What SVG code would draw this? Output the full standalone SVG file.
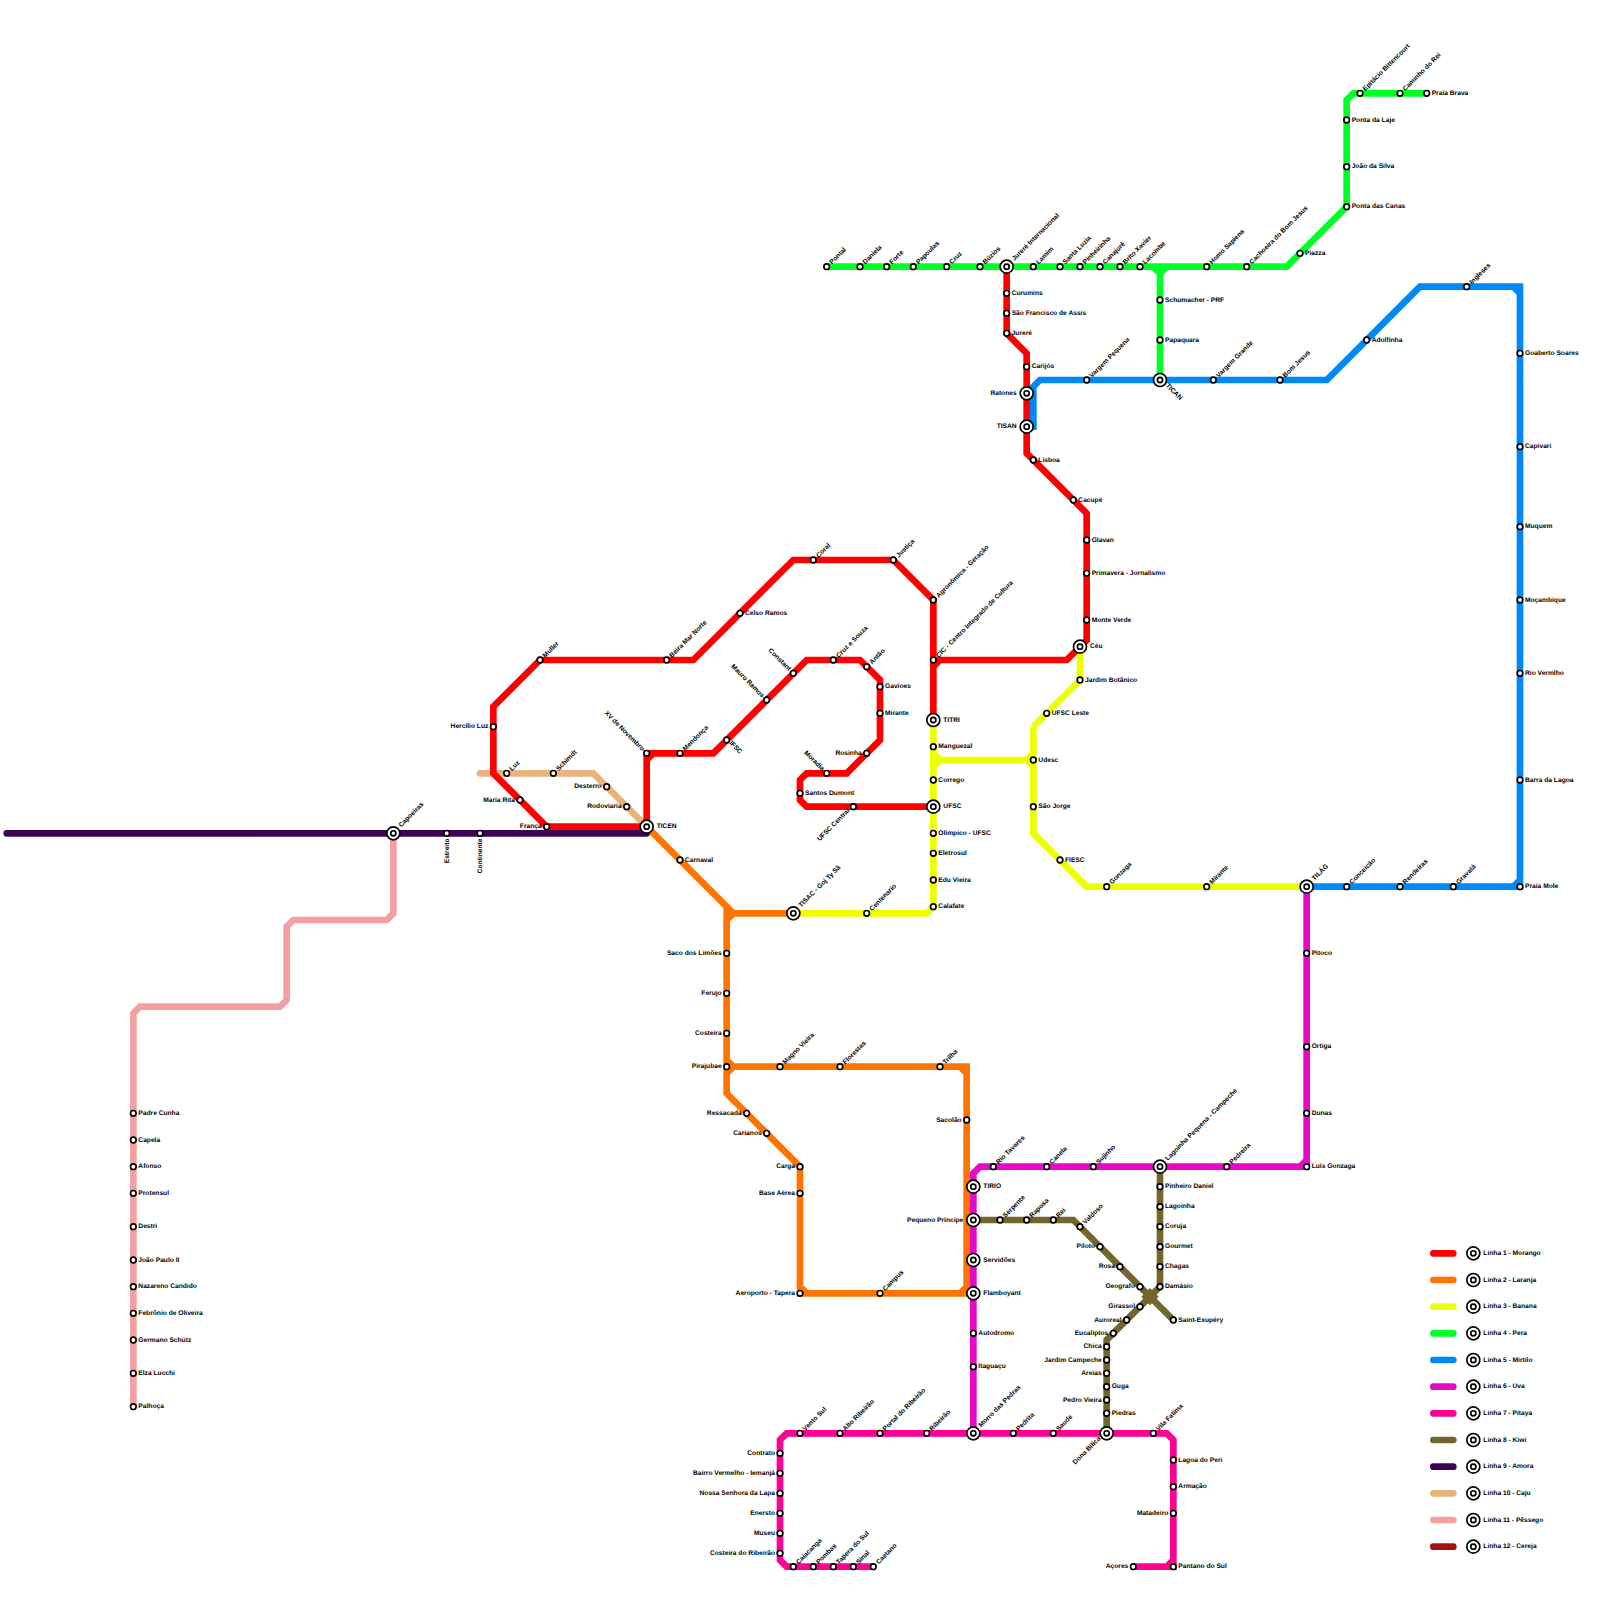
<svg xmlns="http://www.w3.org/2000/svg" width="1600" height="1600" viewBox="0 0 1600 1600">
<style>
.l{fill:none;stroke-width:6.67;stroke-linejoin:miter;stroke-linecap:butt}
.r{stroke-linecap:round}
.s{fill:#fff;stroke:#000;stroke-width:1.67}
.t{font-family:"Liberation Sans",Arial,sans-serif;font-size:6.67px;font-weight:bold;fill:#000;text-rendering:geometricPrecision}
.e{text-anchor:end}
.c1{stroke:#ff0000}.c2{stroke:#ff7300}.c3{stroke:#eeff00}.c4{stroke:#00ff26}.c5{stroke:#0088f5}.c6{stroke:#e60ac8}.c7{stroke:#ff0090}.c8{stroke:#73662d}.c9{stroke:#3b0354}.c10{stroke:#e8b47d}.c11{stroke:#f5a0a0}.c12{stroke:#a81010}
</style>
<defs>
<g id="x"><circle class="s" r="6.5"/><circle class="s" r="2.6"/></g>
</defs>
<g id="connectors">
<path id="linha10" class="l r c10" d="M480,773.33H593.33L646.67,826.67"/>
<path id="linha11" class="l c11" d="M393.33,833.33V913.33L386.67,920H293.33L286.67,926.67V1000L280,1006.67H140L133.33,1013.33V1406.67"/>
<path id="linha5" class="l c5" d="M1033.33,430V386.67L1040,380H1326.67L1420,286.67H1513.33L1520,293.33V886.67H1306.67M1513.33,286.67H1520V293.33M1513.33,886.67L1520,880"/>
<path id="linha4" class="l c4" d="M826.67,266.67H1286.67L1346.67,206.67V100L1353.33,93.33H1426.67M1153.33,266.67L1160,273.33V380M1166.67,266.67L1160,273.33"/>
<path id="linha2" class="l c2" d="M646.67,826.67L726.67,906.67L733.33,913.33H793.33M726.67,906.67V1093.33L800,1166.67V1293.33H966.67V1066.67H726.67M726.67,920L733.33,913.33M726.67,1060L733.33,1066.67L726.67,1073.33M960,1066.67L966.67,1073.33M800,1286.67L806.67,1293.33M960,1293.33L966.67,1286.67"/>
<path id="linha3" class="l c3" d="M793.33,913.33H926.67L933.33,906.67V720M933.33,753.33L940,760L933.33,766.67M940,760H1026.67L1033.33,753.33M1026.67,760L1033.33,766.67M1033.33,726.67V833.33L1086.67,886.67H1306.67M1033.33,726.67L1080,680V646.67"/>
<path id="linha1" class="l c1" d="M1006.67,266.67V333.33L1026.67,353.33V453.33L1086.67,513.33V640L1066.67,660H933.33M933.33,720V600L893.33,560H793.33L693.33,660H540L493.33,706.67V773.33L546.67,826.67H646.67V753.33H713.33L806.67,660H860L880,680V740L846.67,773.33H806.67L800,780V800L806.67,806.67H933.33M940,660L933.33,666.67M653.33,753.33L646.67,760"/>
<path id="linha6" class="l c6" d="M1306.67,886.67V1166.67H980L973.33,1173.33V1433.33M1300,1166.67L1306.67,1160"/>
<path id="linha8" class="l c8" d="M973.33,1220H1073.33L1173.33,1320M1160,1166.67V1286.67L1106.67,1340V1433.33"/>
<path id="kiwi-hub" fill="#73662d" d="M1150,1288L1158.67,1296.67L1150,1305.33L1141.33,1296.67Z"/>
<path id="linha7" class="l c7" d="M1133.33,1566.67H1173.33V1440L1166.67,1433.33H786.67L780,1440V1560L786.67,1566.67H873.33M1166.67,1566.67L1173.33,1560"/>
<path id="linha9" class="l r c9" d="M6.67,833.33H646.67"/>
</g>
<g id="stations" class="t">
<g id="pontal"><circle class="s" cx="826.67" cy="266.67" r="2.8"/><text class="t" x="832" y="264.5" transform="rotate(-45 832 264.5)">Pontal</text></g>
<g id="daniela"><circle class="s" cx="860" cy="266.67" r="2.8"/><text class="t" x="865.33" y="264.5" transform="rotate(-45 865.33 264.5)">Daniela</text></g>
<g id="forte"><circle class="s" cx="886.67" cy="266.67" r="2.8"/><text class="t" x="892" y="264.5" transform="rotate(-45 892 264.5)">Forte</text></g>
<g id="papoulas"><circle class="s" cx="913.33" cy="266.67" r="2.8"/><text class="t" x="918.67" y="264.5" transform="rotate(-45 918.67 264.5)">Papoulas</text></g>
<g id="cruz"><circle class="s" cx="946.67" cy="266.67" r="2.8"/><text class="t" x="952" y="264.5" transform="rotate(-45 952 264.5)">Cruz</text></g>
<g id="buzios"><circle class="s" cx="980" cy="266.67" r="2.8"/><text class="t" x="985.33" y="264.5" transform="rotate(-45 985.33 264.5)">Búzios</text></g>
<g id="lamim"><circle class="s" cx="1033.33" cy="266.67" r="2.8"/><text class="t" x="1038.67" y="264.5" transform="rotate(-45 1038.67 264.5)">Lamim</text></g>
<g id="santaluzia"><circle class="s" cx="1060" cy="266.67" r="2.8"/><text class="t" x="1065.33" y="264.5" transform="rotate(-45 1065.33 264.5)">Santa Luzia</text></g>
<g id="pinheirinha"><circle class="s" cx="1080" cy="266.67" r="2.8"/><text class="t" x="1085.33" y="264.5" transform="rotate(-45 1085.33 264.5)">Pinheirinha</text></g>
<g id="canajure"><circle class="s" cx="1100" cy="266.67" r="2.8"/><text class="t" x="1105.33" y="264.5" transform="rotate(-45 1105.33 264.5)">Canajurê</text></g>
<g id="britoxavier"><circle class="s" cx="1120" cy="266.67" r="2.8"/><text class="t" x="1125.33" y="264.5" transform="rotate(-45 1125.33 264.5)">Brito Xavier</text></g>
<g id="lacombe"><circle class="s" cx="1140" cy="266.67" r="2.8"/><text class="t" x="1145.33" y="264.5" transform="rotate(-45 1145.33 264.5)">Lacombe</text></g>
<g id="homosapiens"><circle class="s" cx="1206.67" cy="266.67" r="2.8"/><text class="t" x="1212" y="264.5" transform="rotate(-45 1212 264.5)">Homo Sapiens</text></g>
<g id="cachoeira"><circle class="s" cx="1246.67" cy="266.67" r="2.8"/><text class="t" x="1252" y="264.5" transform="rotate(-45 1252 264.5)">Cachoeira do Bom Jesus</text></g>
<g id="piazza"><circle class="s" cx="1300" cy="253.33" r="2.8"/><text class="t" x="1305" y="255.1">Piazza</text></g>
<g id="pontacanas"><circle class="s" cx="1346.67" cy="206.67" r="2.8"/><text class="t" x="1351.67" y="208.4">Ponta das Canas</text></g>
<g id="joaosilva"><circle class="s" cx="1346.67" cy="166.67" r="2.8"/><text class="t" x="1351.67" y="168.4">João da Silva</text></g>
<g id="pontalaje"><circle class="s" cx="1346.67" cy="120" r="2.8"/><text class="t" x="1351.67" y="121.8">Ponta da Laje</text></g>
<g id="epitacio"><circle class="s" cx="1360" cy="93.33" r="2.8"/><text class="t" x="1365.33" y="91.2" transform="rotate(-45 1365.33 91.2)">Epitácio Bittencourt</text></g>
<g id="caminhorei"><circle class="s" cx="1400" cy="93.33" r="2.8"/><text class="t" x="1405.33" y="91.2" transform="rotate(-45 1405.33 91.2)">Caminho do Rei</text></g>
<g id="praiabrava"><circle class="s" cx="1426.67" cy="93.33" r="2.8"/><text class="t" x="1431.67" y="95.1">Praia Brava</text></g>
<g id="curumins"><circle class="s" cx="1006.67" cy="293.33" r="2.8"/><text class="t" x="1011.67" y="295.1">Curumins</text></g>
<g id="saofrancisco"><circle class="s" cx="1006.67" cy="313.33" r="2.8"/><text class="t" x="1011.67" y="315.1">São Francisco de Assis</text></g>
<g id="jurere"><circle class="s" cx="1006.67" cy="333.33" r="2.8"/><text class="t" x="1011.67" y="335.1">Jureré</text></g>
<g id="carijos"><circle class="s" cx="1026.67" cy="366.67" r="2.8"/><text class="t" x="1031.67" y="368.4">Carijós</text></g>
<g id="lisboa"><circle class="s" cx="1033.33" cy="460" r="2.8"/><text class="t" x="1038.33" y="461.8">Lisboa</text></g>
<g id="cacupe"><circle class="s" cx="1073.33" cy="500" r="2.8"/><text class="t" x="1078.33" y="501.8">Cacupé</text></g>
<g id="glavan"><circle class="s" cx="1086.67" cy="540" r="2.8"/><text class="t" x="1091.67" y="541.8">Glavan</text></g>
<g id="primavera"><circle class="s" cx="1086.67" cy="573.33" r="2.8"/><text class="t" x="1091.67" y="575.1">Primavera - Jornalismo</text></g>
<g id="monteverde"><circle class="s" cx="1086.67" cy="620" r="2.8"/><text class="t" x="1091.67" y="621.8">Monte Verde</text></g>
<g id="schumacher"><circle class="s" cx="1160" cy="300" r="2.8"/><text class="t" x="1165" y="301.8">Schumacher - PRF</text></g>
<g id="papaquara"><circle class="s" cx="1160" cy="340" r="2.8"/><text class="t" x="1165" y="341.8">Papaquara</text></g>
<g id="vargempequena"><circle class="s" cx="1086.67" cy="380" r="2.8"/><text class="t" x="1092" y="377.9" transform="rotate(-45 1092 377.9)">Vargem Pequena</text></g>
<g id="vargemgrande"><circle class="s" cx="1213.33" cy="380" r="2.8"/><text class="t" x="1218.67" y="377.9" transform="rotate(-45 1218.67 377.9)">Vargem Grande</text></g>
<g id="bomjesus"><circle class="s" cx="1280" cy="380" r="2.8"/><text class="t" x="1285.33" y="377.9" transform="rotate(-45 1285.33 377.9)">Bom Jesus</text></g>
<g id="adolfinha"><circle class="s" cx="1366.67" cy="340" r="2.8"/><text class="t" x="1371.67" y="341.8">Adolfinha</text></g>
<g id="ingleses"><circle class="s" cx="1466.67" cy="286.67" r="2.8"/><text class="t" x="1472" y="284.5" transform="rotate(-45 1472 284.5)">Ingleses</text></g>
<g id="goaberto"><circle class="s" cx="1520" cy="353.33" r="2.8"/><text class="t" x="1525" y="355.1">Goaberto Soares</text></g>
<g id="capivari"><circle class="s" cx="1520" cy="446.67" r="2.8"/><text class="t" x="1525" y="448.4">Capivari</text></g>
<g id="muquem"><circle class="s" cx="1520" cy="526.67" r="2.8"/><text class="t" x="1525" y="528.4">Muquem</text></g>
<g id="mocambique"><circle class="s" cx="1520" cy="600" r="2.8"/><text class="t" x="1525" y="601.8">Moçambique</text></g>
<g id="riovermlho"><circle class="s" cx="1520" cy="673.33" r="2.8"/><text class="t" x="1525" y="675.1">Rio Vermlho</text></g>
<g id="barralagoa"><circle class="s" cx="1520" cy="780" r="2.8"/><text class="t" x="1525" y="781.8">Barra da Lagoa</text></g>
<g id="praiamole"><circle class="s" cx="1520" cy="886.67" r="2.8"/><text class="t" x="1525" y="888.4">Praia Mole</text></g>
<g id="gravata"><circle class="s" cx="1453.33" cy="886.67" r="2.8"/><text class="t" x="1458.67" y="884.5" transform="rotate(-45 1458.67 884.5)">Gravatá</text></g>
<g id="rendeiras"><circle class="s" cx="1400" cy="886.67" r="2.8"/><text class="t" x="1405.33" y="884.5" transform="rotate(-45 1405.33 884.5)">Rendeiras</text></g>
<g id="conceicao"><circle class="s" cx="1346.67" cy="886.67" r="2.8"/><text class="t" x="1352" y="884.5" transform="rotate(-45 1352 884.5)">Conceicão</text></g>
<g id="agronomica"><circle class="s" cx="933.33" cy="600" r="2.8"/><text class="t" x="938.67" y="597.9" transform="rotate(-45 938.67 597.9)">Agronômica - Geração</text></g>
<g id="cic"><circle class="s" cx="933.33" cy="660" r="2.8"/><text class="t" x="938.67" y="657.9" transform="rotate(-45 938.67 657.9)">CIC - Centro Integrado de Cultura</text></g>
<g id="justica"><circle class="s" cx="893.33" cy="560" r="2.8"/><text class="t" x="898.67" y="557.9" transform="rotate(-45 898.67 557.9)">Justiça</text></g>
<g id="coral"><circle class="s" cx="813.33" cy="560" r="2.8"/><text class="t" x="818.67" y="557.9" transform="rotate(-45 818.67 557.9)">Coral</text></g>
<g id="celsoramos"><circle class="s" cx="740" cy="613.33" r="2.8"/><text class="t" x="745" y="615.1">Celso Ramos</text></g>
<g id="beiramar"><circle class="s" cx="666.67" cy="660" r="2.8"/><text class="t" x="672" y="657.9" transform="rotate(-45 672 657.9)">Beira Mar Norte</text></g>
<g id="muller"><circle class="s" cx="540" cy="660" r="2.8"/><text class="t" x="545.33" y="657.9" transform="rotate(-45 545.33 657.9)">Muller</text></g>
<g id="hercilio"><circle class="s" cx="493.33" cy="726.67" r="2.8"/><text class="t e" x="488.33" y="728.4">Hercílio Luz</text></g>
<g id="luz"><circle class="s" cx="506.67" cy="773.33" r="2.8"/><text class="t" x="512" y="771.2" transform="rotate(-45 512 771.2)">Luz</text></g>
<g id="schimdt"><circle class="s" cx="553.33" cy="773.33" r="2.8"/><text class="t" x="558.67" y="771.2" transform="rotate(-45 558.67 771.2)">Schimdt</text></g>
<g id="desterro"><circle class="s" cx="606.67" cy="786.67" r="2.8"/><text class="t e" x="601.67" y="788.4">Desterro</text></g>
<g id="rodoviaria"><circle class="s" cx="626.67" cy="806.67" r="2.8"/><text class="t e" x="621.67" y="808.4">Rodoviaria</text></g>
<g id="mariarita"><circle class="s" cx="520" cy="800" r="2.8"/><text class="t e" x="515" y="801.8">Maria Rita</text></g>
<g id="franca"><circle class="s" cx="546.67" cy="826.67" r="2.8"/><text class="t e" x="541.67" y="828.4">França</text></g>
<g id="xv"><circle class="s" cx="646.67" cy="753.33" r="2.8"/><text class="t e" x="641.83" y="751.2" transform="rotate(45 641.83 751.2)">XV de Novembro</text></g>
<g id="mendonca"><circle class="s" cx="680" cy="753.33" r="2.8"/><text class="t" x="685.33" y="751.2" transform="rotate(-45 685.33 751.2)">Mendonça</text></g>
<g id="ifsc"><circle class="s" cx="726.67" cy="740" r="2.8"/><text class="t" x="729" y="743.5" transform="rotate(45 729 743.5)">IFSC</text></g>
<g id="mauroramos"><circle class="s" cx="766.67" cy="700" r="2.8"/><text class="t e" x="761.83" y="697.9" transform="rotate(45 761.83 697.9)">Mauro Ramos</text></g>
<g id="constant"><circle class="s" cx="793.33" cy="673.33" r="2.8"/><text class="t e" x="788.5" y="671.2" transform="rotate(45 788.5 671.2)">Constant</text></g>
<g id="cruzesouza"><circle class="s" cx="833.33" cy="660" r="2.8"/><text class="t" x="838.67" y="657.9" transform="rotate(-45 838.67 657.9)">Cruz e Souza</text></g>
<g id="antao"><circle class="s" cx="866.67" cy="666.67" r="2.8"/><text class="t" x="872" y="664.5" transform="rotate(-45 872 664.5)">Antão</text></g>
<g id="gavioes"><circle class="s" cx="880" cy="686.67" r="2.8"/><text class="t" x="885" y="688.4">Gavioes</text></g>
<g id="mirante1"><circle class="s" cx="880" cy="713.33" r="2.8"/><text class="t" x="885" y="715.1">Mirante</text></g>
<g id="rosinha"><circle class="s" cx="866.67" cy="753.33" r="2.8"/><text class="t e" x="861.67" y="755.1">Rosinha</text></g>
<g id="moradia"><circle class="s" cx="826.67" cy="773.33" r="2.8"/><text class="t e" x="821.83" y="771.2" transform="rotate(45 821.83 771.2)">Moradia</text></g>
<g id="santosdumont"><circle class="s" cx="800" cy="793.33" r="2.8"/><text class="t" x="805" y="795.1">Santos Dumont</text></g>
<g id="ufsccentral"><circle class="s" cx="853.33" cy="806.67" r="2.8"/><text class="t e" x="850" y="811" transform="rotate(-45 850 811)">UFSC Central</text></g>
<g id="manguezal"><circle class="s" cx="933.33" cy="746.67" r="2.8"/><text class="t" x="938.33" y="748.4">Manguezal</text></g>
<g id="corrego"><circle class="s" cx="933.33" cy="780" r="2.8"/><text class="t" x="938.33" y="781.8">Corrego</text></g>
<g id="olimpico"><circle class="s" cx="933.33" cy="833.33" r="2.8"/><text class="t" x="938.33" y="835.1">Olímpico - UFSC</text></g>
<g id="eletrosul"><circle class="s" cx="933.33" cy="853.33" r="2.8"/><text class="t" x="938.33" y="855.1">Eletrosul</text></g>
<g id="eduvieira"><circle class="s" cx="933.33" cy="880" r="2.8"/><text class="t" x="938.33" y="881.8">Edu Vieira</text></g>
<g id="calafate"><circle class="s" cx="933.33" cy="906.67" r="2.8"/><text class="t" x="938.33" y="908.4">Calafate</text></g>
<g id="centenario"><circle class="s" cx="866.67" cy="913.33" r="2.8"/><text class="t" x="872" y="911.2" transform="rotate(-45 872 911.2)">Centenario</text></g>
<g id="jardimbotanico"><circle class="s" cx="1080" cy="680" r="2.8"/><text class="t" x="1085" y="681.8">Jardim Botânico</text></g>
<g id="ufscleste"><circle class="s" cx="1046.67" cy="713.33" r="2.8"/><text class="t" x="1051.67" y="715.1">UFSC Leste</text></g>
<g id="udesc"><circle class="s" cx="1033.33" cy="760" r="2.8"/><text class="t" x="1038.33" y="761.8">Udesc</text></g>
<g id="saojorge"><circle class="s" cx="1033.33" cy="806.67" r="2.8"/><text class="t" x="1038.33" y="808.4">São Jorge</text></g>
<g id="fiesc"><circle class="s" cx="1060" cy="860" r="2.8"/><text class="t" x="1065" y="861.8">FIESC</text></g>
<g id="gonzaga"><circle class="s" cx="1106.67" cy="886.67" r="2.8"/><text class="t" x="1112" y="884.5" transform="rotate(-45 1112 884.5)">Gonzaga</text></g>
<g id="mirante2"><circle class="s" cx="1206.67" cy="886.67" r="2.8"/><text class="t" x="1212" y="884.5" transform="rotate(-45 1212 884.5)">Mirante</text></g>
<g id="estreito"><circle class="s" cx="446.67" cy="833.33" r="2.8"/><text class="t e" x="449" y="838.5" transform="rotate(-90 449 838.5)">Estreito</text></g>
<g id="continente"><circle class="s" cx="480" cy="833.33" r="2.8"/><text class="t e" x="482.3" y="838.5" transform="rotate(-90 482.3 838.5)">Continente</text></g>
<g id="carnaval"><circle class="s" cx="680" cy="860" r="2.8"/><text class="t" x="685" y="861.8">Carnaval</text></g>
<g id="sacolimoes"><circle class="s" cx="726.67" cy="953.33" r="2.8"/><text class="t e" x="721.67" y="955.1">Saco dos Limões</text></g>
<g id="ferujo"><circle class="s" cx="726.67" cy="993.33" r="2.8"/><text class="t e" x="721.67" y="995.1">Ferujo</text></g>
<g id="costeira"><circle class="s" cx="726.67" cy="1033.33" r="2.8"/><text class="t e" x="721.67" y="1035.1">Costeira</text></g>
<g id="pirajubae"><circle class="s" cx="726.67" cy="1066.67" r="2.8"/><text class="t e" x="721.67" y="1068.4">Pirajubae</text></g>
<g id="magnovieira"><circle class="s" cx="780" cy="1066.67" r="2.8"/><text class="t" x="785.33" y="1064.5" transform="rotate(-45 785.33 1064.5)">Magno Vieira</text></g>
<g id="florestas"><circle class="s" cx="840" cy="1066.67" r="2.8"/><text class="t" x="845.33" y="1064.5" transform="rotate(-45 845.33 1064.5)">Florestas</text></g>
<g id="trilha"><circle class="s" cx="940" cy="1066.67" r="2.8"/><text class="t" x="945.33" y="1064.5" transform="rotate(-45 945.33 1064.5)">Trilha</text></g>
<g id="sacolao"><circle class="s" cx="966.67" cy="1120" r="2.8"/><text class="t e" x="961.67" y="1121.8">Sacolão</text></g>
<g id="ressacada"><circle class="s" cx="746.67" cy="1113.33" r="2.8"/><text class="t e" x="741.67" y="1115.1">Ressacada</text></g>
<g id="carianos"><circle class="s" cx="766.67" cy="1133.33" r="2.8"/><text class="t e" x="761.67" y="1135.1">Carianos</text></g>
<g id="carga"><circle class="s" cx="800" cy="1166.67" r="2.8"/><text class="t e" x="795" y="1168.4">Carga</text></g>
<g id="baseaerea"><circle class="s" cx="800" cy="1193.33" r="2.8"/><text class="t e" x="795" y="1195.1">Base Aérea</text></g>
<g id="aeroporto"><circle class="s" cx="800" cy="1293.33" r="2.8"/><text class="t e" x="795" y="1295.1">Aeroporto - Tapera</text></g>
<g id="campus"><circle class="s" cx="880" cy="1293.33" r="2.8"/><text class="t" x="885.33" y="1291.2" transform="rotate(-45 885.33 1291.2)">Campus</text></g>
<g id="riotavares"><circle class="s" cx="993.33" cy="1166.67" r="2.8"/><text class="t" x="998.67" y="1164.5" transform="rotate(-45 998.67 1164.5)">Rio Tavares</text></g>
<g id="canela"><circle class="s" cx="1046.67" cy="1166.67" r="2.8"/><text class="t" x="1052" y="1164.5" transform="rotate(-45 1052 1164.5)">Canela</text></g>
<g id="sujinho"><circle class="s" cx="1093.33" cy="1166.67" r="2.8"/><text class="t" x="1098.67" y="1164.5" transform="rotate(-45 1098.67 1164.5)">Sujinho</text></g>
<g id="pedreira"><circle class="s" cx="1226.67" cy="1166.67" r="2.8"/><text class="t" x="1232" y="1164.5" transform="rotate(-45 1232 1164.5)">Pedreira</text></g>
<g id="luisgonzaga"><circle class="s" cx="1306.67" cy="1166.67" r="2.8"/><text class="t" x="1311.67" y="1168.4">Luís Gonzaga</text></g>
<g id="dunas"><circle class="s" cx="1306.67" cy="1113.33" r="2.8"/><text class="t" x="1311.67" y="1115.1">Dunas</text></g>
<g id="ortiga"><circle class="s" cx="1306.67" cy="1046.67" r="2.8"/><text class="t" x="1311.67" y="1048.4">Ortiga</text></g>
<g id="pitoco"><circle class="s" cx="1306.67" cy="953.33" r="2.8"/><text class="t" x="1311.67" y="955.1">Pitoco</text></g>
<g id="autodromo"><circle class="s" cx="973.33" cy="1333.33" r="2.8"/><text class="t" x="978.33" y="1335.1">Autodromo</text></g>
<g id="itaguacu"><circle class="s" cx="973.33" cy="1366.67" r="2.8"/><text class="t" x="978.33" y="1368.4">Itaguaçu</text></g>
<g id="serpente"><circle class="s" cx="1000" cy="1220" r="2.8"/><text class="t" x="1005.33" y="1217.9" transform="rotate(-45 1005.33 1217.9)">Serpente</text></g>
<g id="raposa"><circle class="s" cx="1026.67" cy="1220" r="2.8"/><text class="t" x="1032" y="1217.9" transform="rotate(-45 1032 1217.9)">Raposa</text></g>
<g id="rei"><circle class="s" cx="1053.33" cy="1220" r="2.8"/><text class="t" x="1058.67" y="1217.9" transform="rotate(-45 1058.67 1217.9)">Rei</text></g>
<g id="valdoso"><circle class="s" cx="1080" cy="1226.67" r="2.8"/><text class="t" x="1085.33" y="1224.5" transform="rotate(-45 1085.33 1224.5)">Valdoso</text></g>
<g id="piloto"><circle class="s" cx="1100" cy="1246.67" r="2.8"/><text class="t e" x="1095" y="1248.4">Piloto</text></g>
<g id="rosa"><circle class="s" cx="1120" cy="1266.67" r="2.8"/><text class="t e" x="1115" y="1268.4">Rosa</text></g>
<g id="geografo"><circle class="s" cx="1140" cy="1286.67" r="2.8"/><text class="t e" x="1135" y="1288.4">Geografo</text></g>
<g id="saintexupery"><circle class="s" cx="1173.33" cy="1320" r="2.8"/><text class="t" x="1178.33" y="1321.8">Saint-Exupéry</text></g>
<g id="pinheirodaniel"><circle class="s" cx="1160" cy="1186.67" r="2.8"/><text class="t" x="1165" y="1188.4">Pinheiro Daniel</text></g>
<g id="lagoinha"><circle class="s" cx="1160" cy="1206.67" r="2.8"/><text class="t" x="1165" y="1208.4">Lagoinha</text></g>
<g id="coruja"><circle class="s" cx="1160" cy="1226.67" r="2.8"/><text class="t" x="1165" y="1228.4">Coruja</text></g>
<g id="gourmet"><circle class="s" cx="1160" cy="1246.67" r="2.8"/><text class="t" x="1165" y="1248.4">Gourmet</text></g>
<g id="chagas"><circle class="s" cx="1160" cy="1266.67" r="2.8"/><text class="t" x="1165" y="1268.4">Chagas</text></g>
<g id="damasio"><circle class="s" cx="1160" cy="1286.67" r="2.8"/><text class="t" x="1165" y="1288.4">Damásio</text></g>
<g id="girassol"><circle class="s" cx="1140" cy="1306.67" r="2.8"/><text class="t e" x="1135" y="1308.4">Girassol</text></g>
<g id="aurorea"><circle class="s" cx="1126.67" cy="1320" r="2.8"/><text class="t e" x="1121.67" y="1321.8">Auroreal</text></g>
<g id="eucaliptos"><circle class="s" cx="1113.33" cy="1333.33" r="2.8"/><text class="t e" x="1108.33" y="1335.1">Eucaliptos</text></g>
<g id="chica"><circle class="s" cx="1106.67" cy="1346.67" r="2.8"/><text class="t e" x="1101.67" y="1348.4">Chica</text></g>
<g id="jardimcampeche"><circle class="s" cx="1106.67" cy="1360" r="2.8"/><text class="t e" x="1101.67" y="1361.8">Jardim Campeche</text></g>
<g id="areias"><circle class="s" cx="1106.67" cy="1373.33" r="2.8"/><text class="t e" x="1101.67" y="1375.1">Areias</text></g>
<g id="guga"><circle class="s" cx="1106.67" cy="1386.67" r="2.8"/><text class="t" x="1111.67" y="1388.4">Guga</text></g>
<g id="pedrovieira"><circle class="s" cx="1106.67" cy="1400" r="2.8"/><text class="t e" x="1101.67" y="1401.8">Pedro Vieira</text></g>
<g id="piedras"><circle class="s" cx="1106.67" cy="1413.33" r="2.8"/><text class="t" x="1111.67" y="1415.1">Piedras</text></g>
<g id="ventosul"><circle class="s" cx="800" cy="1433.33" r="2.8"/><text class="t" x="805.33" y="1431.2" transform="rotate(-45 805.33 1431.2)">Vento Sul</text></g>
<g id="altoribeirao"><circle class="s" cx="840" cy="1433.33" r="2.8"/><text class="t" x="845.33" y="1431.2" transform="rotate(-45 845.33 1431.2)">Alto Ribeirão</text></g>
<g id="portalribeirao"><circle class="s" cx="880" cy="1433.33" r="2.8"/><text class="t" x="885.33" y="1431.2" transform="rotate(-45 885.33 1431.2)">Portal do Ribeirão</text></g>
<g id="ribeirao"><circle class="s" cx="926.67" cy="1433.33" r="2.8"/><text class="t" x="932" y="1431.2" transform="rotate(-45 932 1431.2)">Ribeirão</text></g>
<g id="pedrita"><circle class="s" cx="1013.33" cy="1433.33" r="2.8"/><text class="t" x="1018.67" y="1431.2" transform="rotate(-45 1018.67 1431.2)">Pedrita</text></g>
<g id="saude"><circle class="s" cx="1053.33" cy="1433.33" r="2.8"/><text class="t" x="1058.67" y="1431.2" transform="rotate(-45 1058.67 1431.2)">Saude</text></g>
<g id="vilafatima"><circle class="s" cx="1153.33" cy="1433.33" r="2.8"/><text class="t" x="1158.67" y="1431.2" transform="rotate(-45 1158.67 1431.2)">Vila Fatima</text></g>
<g id="lagoaperi"><circle class="s" cx="1173.33" cy="1460" r="2.8"/><text class="t" x="1178.33" y="1461.8">Lagoa do Peri</text></g>
<g id="armacao"><circle class="s" cx="1173.33" cy="1486.67" r="2.8"/><text class="t" x="1178.33" y="1488.4">Armação</text></g>
<g id="matadeiro"><circle class="s" cx="1173.33" cy="1513.33" r="2.8"/><text class="t e" x="1168.33" y="1515.1">Matadeiro</text></g>
<g id="pantano"><circle class="s" cx="1173.33" cy="1566.67" r="2.8"/><text class="t" x="1178.33" y="1568.4">Pantano do Sul</text></g>
<g id="acores"><circle class="s" cx="1133.33" cy="1566.67" r="2.8"/><text class="t e" x="1128.33" y="1568.4">Açores</text></g>
<g id="contrato"><circle class="s" cx="780" cy="1453.33" r="2.8"/><text class="t e" x="775" y="1455.1">Contrato</text></g>
<g id="bairrovermelho"><circle class="s" cx="780" cy="1473.33" r="2.8"/><text class="t e" x="775" y="1475.1">Bairro Vermelho - Iemanjá</text></g>
<g id="nossasenhora"><circle class="s" cx="780" cy="1493.33" r="2.8"/><text class="t e" x="775" y="1495.1">Nossa Senhora da Lapa</text></g>
<g id="enersto"><circle class="s" cx="780" cy="1513.33" r="2.8"/><text class="t e" x="775" y="1515.1">Enersto</text></g>
<g id="museu"><circle class="s" cx="780" cy="1533.33" r="2.8"/><text class="t e" x="775" y="1535.1">Museu</text></g>
<g id="costeiraribeirao"><circle class="s" cx="780" cy="1553.33" r="2.8"/><text class="t e" x="775" y="1555.1">Costeira do Ribeirão</text></g>
<g id="caiacanga"><circle class="s" cx="793.33" cy="1566.67" r="2.8"/><text class="t" x="798.67" y="1564.5" transform="rotate(-45 798.67 1564.5)">Caiacanga</text></g>
<g id="pombas"><circle class="s" cx="813.33" cy="1566.67" r="2.8"/><text class="t" x="818.67" y="1564.5" transform="rotate(-45 818.67 1564.5)">Pombas</text></g>
<g id="taperasul"><circle class="s" cx="833.33" cy="1566.67" r="2.8"/><text class="t" x="838.67" y="1564.5" transform="rotate(-45 838.67 1564.5)">Tapera do Sul</text></g>
<g id="sinal"><circle class="s" cx="853.33" cy="1566.67" r="2.8"/><text class="t" x="858.67" y="1564.5" transform="rotate(-45 858.67 1564.5)">Sinal</text></g>
<g id="caetano"><circle class="s" cx="873.33" cy="1566.67" r="2.8"/><text class="t" x="878.67" y="1564.5" transform="rotate(-45 878.67 1564.5)">Caetano</text></g>
<g id="padrecunha"><circle class="s" cx="133.33" cy="1113.33" r="2.8"/><text class="t" x="138.33" y="1115.1">Padre Cunha</text></g>
<g id="capela"><circle class="s" cx="133.33" cy="1140" r="2.8"/><text class="t" x="138.33" y="1141.8">Capela</text></g>
<g id="afonso"><circle class="s" cx="133.33" cy="1166.67" r="2.8"/><text class="t" x="138.33" y="1168.4">Afonso</text></g>
<g id="protensul"><circle class="s" cx="133.33" cy="1193.33" r="2.8"/><text class="t" x="138.33" y="1195.1">Protensul</text></g>
<g id="destri"><circle class="s" cx="133.33" cy="1226.67" r="2.8"/><text class="t" x="138.33" y="1228.4">Destri</text></g>
<g id="joaopaulo"><circle class="s" cx="133.33" cy="1260" r="2.8"/><text class="t" x="138.33" y="1261.8">João Paulo II</text></g>
<g id="nazareno"><circle class="s" cx="133.33" cy="1286.67" r="2.8"/><text class="t" x="138.33" y="1288.4">Nazareno Candido</text></g>
<g id="febronio"><circle class="s" cx="133.33" cy="1313.33" r="2.8"/><text class="t" x="138.33" y="1315.1">Febrônio de Oliveira</text></g>
<g id="germano"><circle class="s" cx="133.33" cy="1340" r="2.8"/><text class="t" x="138.33" y="1341.8">Germano Schütz</text></g>
<g id="elza"><circle class="s" cx="133.33" cy="1373.33" r="2.8"/><text class="t" x="138.33" y="1375.1">Elza Lucchi</text></g>
<g id="palhoca"><circle class="s" cx="133.33" cy="1406.67" r="2.8"/><text class="t" x="138.33" y="1408.4">Palhoça</text></g>
</g>
<g id="interchanges">
<g id="jurereint"><use href="#x" x="1006.67" y="266.67"/><text class="t" x="1014.5" y="261" transform="rotate(-45 1014.5 261)">Jureré Internacional</text></g>
<g id="ratones"><use href="#x" x="1026.67" y="393.33"/><text class="t e" x="1016.67" y="395.1">Ratones</text></g>
<g id="tisan"><use href="#x" x="1026.67" y="426.67"/><text class="t e" x="1016.67" y="428.4">TISAN</text></g>
<g id="tican"><use href="#x" x="1160" y="380"/><text class="t" x="1165.5" y="386" transform="rotate(45 1165.5 386)">TICAN</text></g>
<g id="ceu"><use href="#x" x="1080" y="646.67"/><text class="t" x="1090" y="648.4">Céu</text></g>
<g id="titri"><use href="#x" x="933.33" y="720"/><text class="t" x="943.33" y="721.8">TITRI</text></g>
<g id="ufsc"><use href="#x" x="933.33" y="806.67"/><text class="t" x="943.33" y="808.4">UFSC</text></g>
<g id="ticen"><use href="#x" x="646.67" y="826.67"/><text class="t" x="656.67" y="828.4">TICEN</text></g>
<g id="capoeiras"><use href="#x" x="393.33" y="833.33"/><text class="t" x="401.2" y="827.5" transform="rotate(-45 401.2 827.5)">Capoeiras</text></g>
<g id="tisac"><use href="#x" x="793.33" y="913.33"/><text class="t" x="801.2" y="907.5" transform="rotate(-45 801.2 907.5)">TISAC - Goj Ty Sã</text></g>
<g id="tilag"><use href="#x" x="1306.67" y="886.67"/><text class="t" x="1314.5" y="880.8" transform="rotate(-45 1314.5 880.8)">TILÁG</text></g>
<g id="lagoinhapequena"><use href="#x" x="1160" y="1166.67"/><text class="t" x="1167.8" y="1160.8" transform="rotate(-45 1167.8 1160.8)">Lagoinha Pequena - Campeche</text></g>
<g id="tirio"><use href="#x" x="973.33" y="1186.67"/><text class="t" x="983.33" y="1188.4">TIRIO</text></g>
<g id="pequenoprincipe"><use href="#x" x="973.33" y="1220"/><text class="t e" x="963.33" y="1221.8">Pequeno Príncipe</text></g>
<g id="servidoes"><use href="#x" x="973.33" y="1260"/><text class="t" x="983.33" y="1261.8">Servidões</text></g>
<g id="flamboyant"><use href="#x" x="973.33" y="1293.33"/><text class="t" x="983.33" y="1295.1">Flamboyant</text></g>
<g id="morropedras"><use href="#x" x="973.33" y="1433.33"/><text class="t" x="981.2" y="1427.5" transform="rotate(-45 981.2 1427.5)">Morro das Pedras</text></g>
<g id="donabilica"><use href="#x" x="1106.67" y="1433.33"/><text class="t e" x="1101" y="1439" transform="rotate(-45 1101 1439)">Dona Bilica</text></g>
</g>
<g id="legend">
<g id="leg1"><path class="l r c1" d="M1433.33,1253.33H1453.33"/><use href="#x" x="1473.33" y="1253.33"/><text class="t" x="1483.33" y="1255.1">Linha 1 - Morango</text></g>
<g id="leg2"><path class="l r c2" d="M1433.33,1280H1453.33"/><use href="#x" x="1473.33" y="1280"/><text class="t" x="1483.33" y="1281.8">Linha 2 - Laranja</text></g>
<g id="leg3"><path class="l r c3" d="M1433.33,1306.67H1453.33"/><use href="#x" x="1473.33" y="1306.67"/><text class="t" x="1483.33" y="1308.4">Linha 3 - Banana</text></g>
<g id="leg4"><path class="l r c4" d="M1433.33,1333.33H1453.33"/><use href="#x" x="1473.33" y="1333.33"/><text class="t" x="1483.33" y="1335.1">Linha 4 - Pera</text></g>
<g id="leg5"><path class="l r c5" d="M1433.33,1360H1453.33"/><use href="#x" x="1473.33" y="1360"/><text class="t" x="1483.33" y="1361.8">Linha 5 - Mirtilo</text></g>
<g id="leg6"><path class="l r c6" d="M1433.33,1386.67H1453.33"/><use href="#x" x="1473.33" y="1386.67"/><text class="t" x="1483.33" y="1388.4">Linha 6 - Uva</text></g>
<g id="leg7"><path class="l r c7" d="M1433.33,1413.33H1453.33"/><use href="#x" x="1473.33" y="1413.33"/><text class="t" x="1483.33" y="1415.1">Linha 7 - Pitaya</text></g>
<g id="leg8"><path class="l r c8" d="M1433.33,1440H1453.33"/><use href="#x" x="1473.33" y="1440"/><text class="t" x="1483.33" y="1441.8">Linha 8 - Kiwi</text></g>
<g id="leg9"><path class="l r c9" d="M1433.33,1466.67H1453.33"/><use href="#x" x="1473.33" y="1466.67"/><text class="t" x="1483.33" y="1468.4">Linha 9 - Amora</text></g>
<g id="leg10"><path class="l r c10" d="M1433.33,1493.33H1453.33"/><use href="#x" x="1473.33" y="1493.33"/><text class="t" x="1483.33" y="1495.1">Linha 10 - Caju</text></g>
<g id="leg11"><path class="l r c11" d="M1433.33,1520H1453.33"/><use href="#x" x="1473.33" y="1520"/><text class="t" x="1483.33" y="1521.8">Linha 11 - Pêssego</text></g>
<g id="leg12"><path class="l r c12" d="M1433.33,1546.67H1453.33"/><use href="#x" x="1473.33" y="1546.67"/><text class="t" x="1483.33" y="1548.4">Linha 12 - Cereja</text></g>
</g>
</svg>
